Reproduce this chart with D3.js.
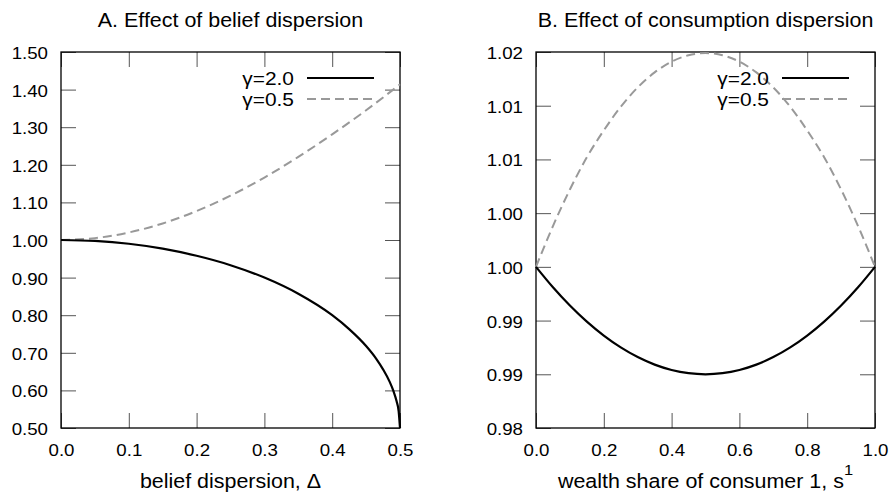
<!DOCTYPE html>
<html>
<head>
<meta charset="utf-8">
<script src="https://cdn.jsdelivr.net/npm/d3@7"></script>
<style>
  body { margin: 0; background: #fff; }
  text { font-family: "Liberation Sans", Arial, sans-serif; fill: #000; }
</style>
</head>
<body>
<div id="chart"></div>
<script>
// panel A: belief dispersion
const deltaG20 = [0, 0.05, 0.1, 0.15, 0.2, 0.25, 0.3, 0.35, 0.4, 0.425, 0.45, 0.465, 0.475, 0.485, 0.49, 0.495, 0.498, 0.5]
const beliefG20 = [1.000, 0.9975, 0.990, 0.977, 0.958, 0.933, 0.900, 0.857, 0.800, 0.763, 0.718, 0.684, 0.656, 0.622, 0.600, 0.571, 0.545, 0.500]
const deltaG05 = [0, 0.05, 0.1, 0.15, 0.2, 0.25, 0.3, 0.35, 0.4, 0.45, 0.5]
const beliefG05 = [1.000, 1.005, 1.020, 1.044, 1.077, 1.118, 1.166, 1.221, 1.281, 1.345, 1.414]

// panel B: consumption dispersion
const shareS = [0, 0.05, 0.1, 0.15, 0.2, 0.25, 0.3, 0.35, 0.4, 0.45, 0.5, 0.55, 0.6, 0.65, 0.7, 0.75, 0.8, 0.85, 0.9, 0.95, 1.0]
const consG20 = [1.0, 0.9981, 0.9964, 0.9949, 0.9936, 0.9925, 0.9916, 0.9909, 0.9904, 0.9901, 0.9900, 0.9901, 0.9904, 0.9909, 0.9916, 0.9925, 0.9936, 0.9949, 0.9964, 0.9981, 1.0]
const consG05 = [1.0, 1.0038, 1.0072, 1.0102, 1.0127, 1.0149, 1.0167, 1.0181, 1.0191, 1.0197, 1.0199, 1.0197, 1.0191, 1.0181, 1.0167, 1.0149, 1.0127, 1.0102, 1.0072, 1.0038, 1.0]

// ticks
const ticksAX = [0, 0.1, 0.2, 0.3, 0.4, 0.5]
const ticksAY = [0.5, 0.6, 0.7, 0.8, 0.9, 1.0, 1.1, 1.2, 1.3, 1.4, 1.5]
const ticksBX = [0, 0.2, 0.4, 0.6, 0.8, 1.0]
const ticksBY = [0.985, 0.99, 0.995, 1.0, 1.005, 1.01, 1.015, 1.02]
const labelsBY = ["0.98", "0.99", "0.99", "1.00", "1.00", "1.01", "1.01", "1.02"]

const legendLabels = ["γ=2.0", "γ=0.5"]

const W = 889, H = 494
const TOP = 52, BOTTOM = 428, PW = 339
const TICK = 15
const STRETCH = 1.1
const GREY = "#999"

const svg = d3.select("#chart").append("svg")
              .attr("width", W)
              .attr("height", H)

// text in the reference is a bit wider than Arial, stretch it round its x
function stretch(sel) {
  sel.each(function () {
    const x = +this.getAttribute("x") || 0
    d3.select(this).attr("transform", `translate(${x},0) scale(${STRETCH},1) translate(${-x},0)`)
  })
}

function drawPanel(cfg) {
  const x = d3.scaleLinear().domain(cfg.xDomain).range([0, PW])
  const y = d3.scaleLinear().domain(cfg.yDomain).range([BOTTOM - TOP, 0])
  const h = BOTTOM - TOP

  const g = svg.append("g").attr("transform", `translate(${cfg.left}, ${TOP})`)

  const styleAxis = (ax) => {
    ax.select(".domain").remove()
    ax.selectAll(".tick line").attr("stroke", "#555").attr("stroke-width", 1)
    ax.selectAll("text").attr("font-size", 17).attr("font-family", null)
  }

  const xb = g.append("g").attr("transform", `translate(0, ${h})`)
              .call(d3.axisBottom(x).tickValues(cfg.xTicks).tickSize(-TICK).tickPadding(16).tickFormat(d3.format(".1f")))
  styleAxis(xb)
  xb.selectAll("text").call(stretch)

  const yl = g.append("g")
              .call(d3.axisLeft(y).tickValues(cfg.yTicks).tickSize(-TICK).tickPadding(13).tickFormat(cfg.yFormat))
  styleAxis(yl)
  yl.selectAll("text").attr("dy", "0.38em").call(stretch)

  // mirrored ticks, no labels
  const xt = g.append("g").call(d3.axisTop(x).tickValues(cfg.xTicks).tickSize(-TICK).tickFormat(""))
  styleAxis(xt)
  const yr = g.append("g").attr("transform", `translate(${PW}, 0)`)
              .call(d3.axisRight(y).tickValues(cfg.yTicks).tickSize(-TICK).tickFormat(""))
  styleAxis(yr)

  g.append("rect")
   .attr("width", PW).attr("height", h)
   .attr("fill", "none").attr("stroke", "#000").attr("stroke-width", 1.3)

  const line = d3.line().x(d => x(d[0])).y(d => y(d[1])).curve(d3.curveMonotoneX)

  g.append("path")
   .datum(d3.zip(cfg.x05, cfg.y05))
   .attr("d", line)
   .attr("fill", "none").attr("stroke", GREY).attr("stroke-width", 2)
   .attr("stroke-dasharray", "9,5")

  g.append("path")
   .datum(d3.zip(cfg.x20, cfg.y20))
   .attr("d", line)
   .attr("fill", "none").attr("stroke", "#000").attr("stroke-width", 2.2)

  // legend
  const styles = [{ stroke: "#000", dash: null }, { stroke: GREY, dash: "9,5" }]
  legendLabels.forEach((lab, i) => {
    const ly = 26 + i * 21
    g.append("line")
     .attr("x1", PW - 93).attr("x2", PW - 26)
     .attr("y1", ly).attr("y2", ly)
     .attr("stroke", styles[i].stroke).attr("stroke-width", 2.2)
     .attr("stroke-dasharray", styles[i].dash)
    g.append("text")
     .attr("x", PW - 106).attr("y", ly + 6.6)
     .attr("text-anchor", "end")
     .attr("font-size", 19)
     .text(lab)
     .call(stretch)
  })

  // title
  g.append("text")
   .attr("x", PW / 2).attr("y", 27 - TOP)
   .attr("text-anchor", "middle")
   .attr("font-size", 19.5)
   .text(cfg.title)
   .call(stretch)

  const xl = g.append("text")
              .attr("x", PW / 2).attr("y", 488 - TOP)
              .attr("text-anchor", "middle")
              .attr("font-size", 19.5)
              .text(cfg.xLabel)
  if (cfg.xSup) {
    xl.append("tspan").attr("font-size", 15).attr("dy", -13).text(cfg.xSup)
  }
  xl.call(stretch)
}

drawPanel({
  left: 61,
  xDomain: [0, 0.5], yDomain: [0.5, 1.5],
  xTicks: ticksAX, yTicks: ticksAY,
  yFormat: d3.format(".2f"),
  x20: deltaG20, y20: beliefG20, x05: deltaG05, y05: beliefG05,
  title: "A. Effect of belief dispersion",
  xLabel: "belief dispersion, Δ"
})

drawPanel({
  left: 536,
  xDomain: [0, 1], yDomain: [0.985, 1.02],
  xTicks: ticksBX, yTicks: ticksBY,
  yFormat: (d, i) => labelsBY[i],
  x20: shareS, y20: consG20, x05: shareS, y05: consG05,
  title: "B. Effect of consumption dispersion",
  xLabel: "wealth share of consumer 1, s",
  xSup: "1"
})
</script>
</body>
</html>
